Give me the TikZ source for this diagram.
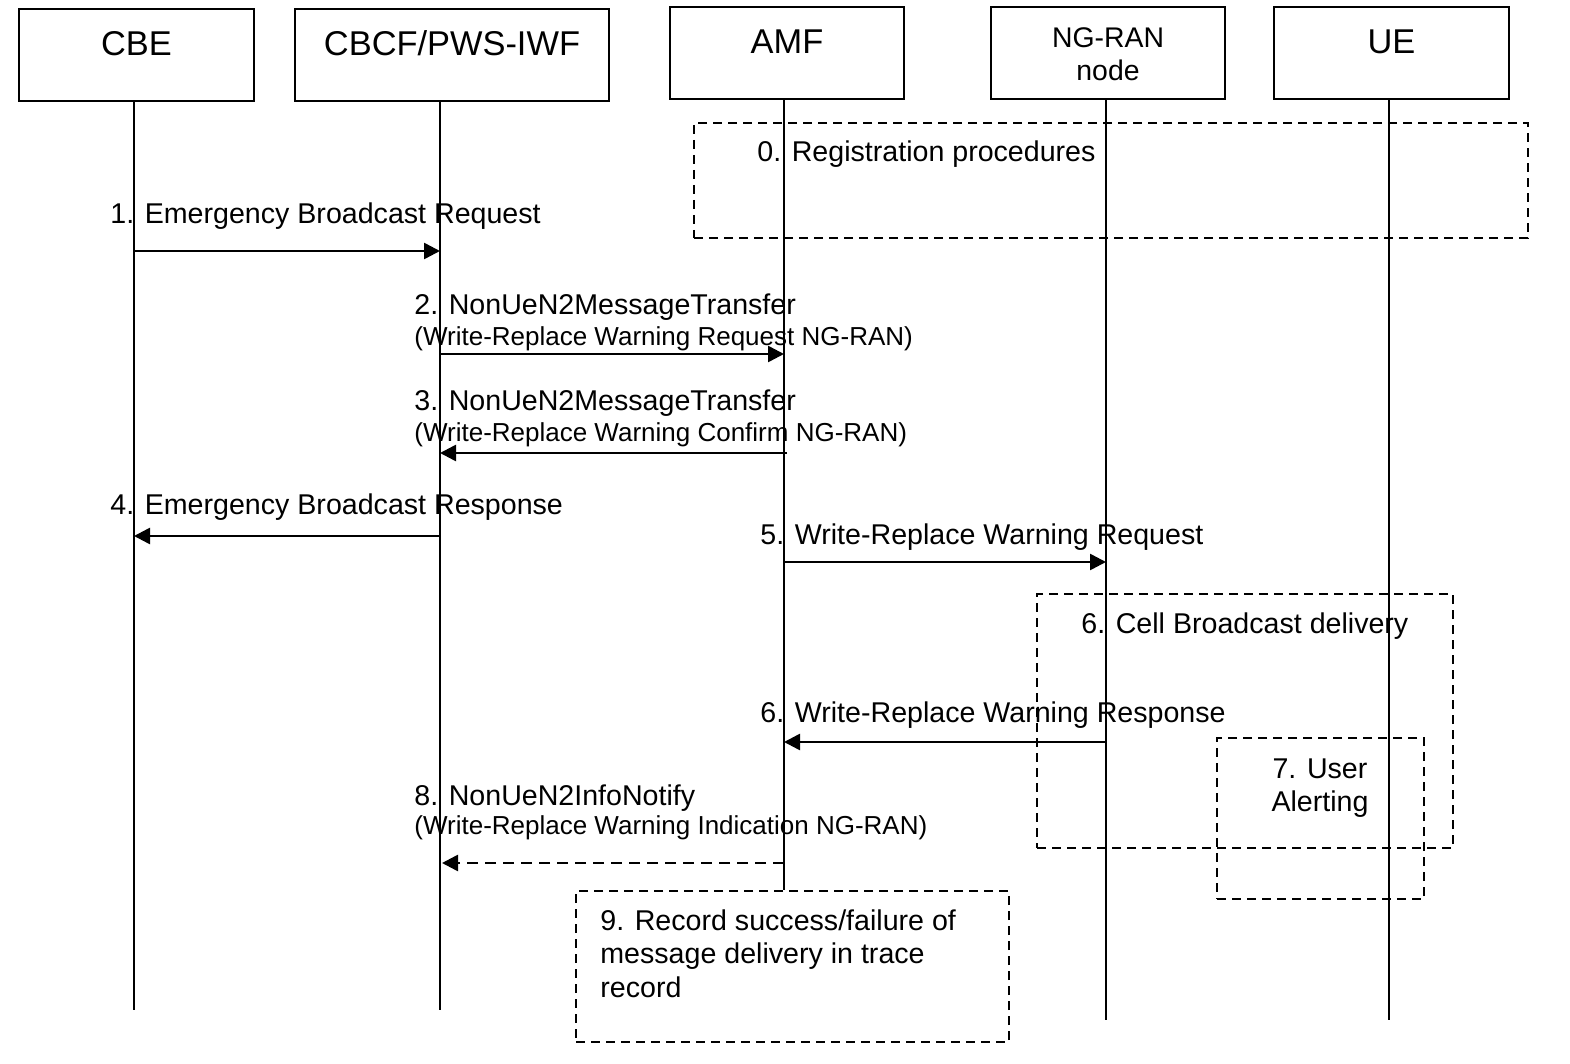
\documentclass[tikz,border=0pt]{standalone}
\usepackage{fontspec}
\setmainfont{Liberation Sans}
\usetikzlibrary{arrows.meta}
\begin{document}
\begin{tikzpicture}[x=0.5pt,y=-0.5pt,
  ent/.style={draw, line width=1pt, inner sep=0pt, minimum width=117.5pt,
    text height=23.5pt, text depth=22.5pt, anchor=north west,
    font=\fontsize{17.2}{20}\selectfont},
  life/.style={line width=1pt},
  msg/.style={line width=1.3pt, -{Triangle[length=8pt,width=8pt]}},
  rmsg/.style={msg, dash pattern=on 5.5pt off 3.5pt},
  grp/.style={draw, line width=1pt, dash pattern=on 4.5pt off 3pt, inner sep=0pt, anchor=north west},
  lab/.style={font=\fontsize{14.3}{16.75}\selectfont, inner sep=0pt, anchor=base west},
  sub/.style={font=\fontsize{13}{15}\selectfont, inner sep=0pt, anchor=base west},
]
\useasboundingbox (0,0) rectangle (1570,1064);

% entities
\node[ent] (cbe) at (18,8) {CBE};
\node[ent, minimum width=157pt] (cbcf) at (294,8) {CBCF/PWS-IWF};
\node[ent, minimum width=117pt] (amf) at (669,6) {AMF};
\node[ent, minimum width=117pt, text height=20.5pt, text depth=25.5pt,
  font=\fontsize{14.2}{16.5}\selectfont] (ngran) at (990,6)
  {\begin{tabular}[t]{@{}c@{}}NG-RAN\\node\end{tabular}};
\node[ent] (ue) at (1273,6) {UE};

% group boxes
\node[grp, minimum width=417pt, minimum height=57.5pt] (g0) at (693,122) {};
\node[grp, minimum width=208pt, minimum height=127pt] (g6) at (1036,593) {};
\node[grp, minimum width=103.5pt, minimum height=80.5pt] (g7) at (1216,737) {};
\node[grp, minimum width=216.5pt, minimum height=75.5pt] (g9) at (575,890) {};

% lifeline ends
\coordinate (e1) at (134,1010);
\coordinate (e2) at (440,1010);
\coordinate (e3) at (784,890);
\coordinate (e4) at (1106,1020);
\coordinate (e5) at (1389,1020);

\draw[life] (cbe.south -| e1) -- (e1);
\draw[life] (cbcf.south -| e2) -- (e2);
\draw[life] (amf.south -| e3) -- (e3 |- g9.north);
\draw[life] (ngran.south -| e4) -- (e4);
\draw[life] (ue.south -| e5) -- (e5);

% group texts
\node[lab] (t0) at (757,162) {0. Registration procedures};
\node[lab] (t6) at (1081,633) {6. Cell Broadcast delivery};
\node[lab, anchor=base] (t7) at (1320,778) {\begin{tabular}[t]{@{}c@{}}7. User\\Alerting\end{tabular}};
\node[lab] (t9) at (600,930) {\begin{tabular}[t]{@{}l@{}}9. Record success/failure of\\message delivery in trace\\record\end{tabular}};

% messages
\node[lab] (m1) at (110,224) {1. Emergency Broadcast Request};
\draw[msg] (e1 |- 0,251) -- (e2 |- 0,251);

\node[lab] (m2) at (414,315) {2. NonUeN2MessageTransfer};
\node[sub] (m2b) at (414,346) {(Write-Replace Warning Request NG-RAN)};
\draw[msg] (e2 |- 0,354) -- (e3 |- 0,354);

\node[lab] (m3) at (414,410) {3. NonUeN2MessageTransfer};
\node[sub] (m3b) at (414,441) {(Write-Replace Warning Confirm NG-RAN)};
\draw[msg] (787,453) -- (e2 |- 0,453);

\node[lab] (m4) at (110,514) {4. Emergency Broadcast Response};
\draw[msg] (e2 |- 0,536) -- (e1 |- 0,536);

\node[lab] (m5) at (760,544) {5. Write-Replace Warning Request};
\draw[msg] (e3 |- 0,562) -- (e4 |- 0,562);

\node[lab] (m6) at (760,722) {6. Write-Replace Warning Response};
\draw[msg] (e4 |- 0,742) -- (e3 |- 0,742);

\node[lab] (m8) at (414,805) {8. NonUeN2InfoNotify};
\node[sub] (m8b) at (414,834) {(Write-Replace Warning Indication NG-RAN)};
\draw[rmsg] (e3 |- 0,863) -- (442,863);
\end{tikzpicture}
\end{document}
